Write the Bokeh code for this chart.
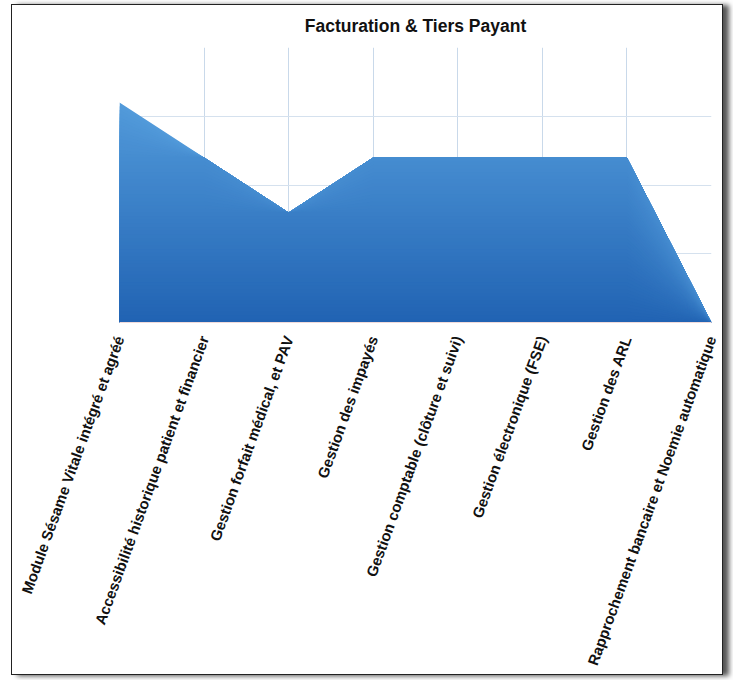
import numpy as np
from bokeh.plotting import figure
from bokeh.models import FixedTicker
from bokeh.embed import file_html
from bokeh.resources import INLINE

title = "Facturation & Tiers Payant"
categories = [
    "Module Sésame Vitale intégré et agréé",
    "Accessibilité historique patient et financier",
    "Gestion forfait médical, et PAV",
    "Gestion des impayés",
    "Gestion comptable (clôture et suivi)",
    "Gestion électronique (FSE)",
    "Gestion des ARL",
    "Rapprochement bancaire et Noemie automatique",
]
values = [4, 3, 2, 3, 3, 3, 3, 0]
y_max = 5
y_grid = [0, 1.25, 2.5, 3.75, 5]

x = np.arange(len(categories))
vals = np.array(values, dtype=float)

p = figure(width=712, height=671, x_range=(0, len(categories) - 1), y_range=(0, y_max),
           output_backend="svg", toolbar_location=None, title=title,
           min_border_left=107, min_border_right=13, min_border_top=42, min_border_bottom=354)
p.styles = {"border": "1px solid #222", "box-shadow": "6px 1px 5px #555",
            "margin-left": "11px", "margin-top": "4px"}

p.title.text_font = "Liberation Sans"
p.title.text_font_style = "bold"
p.title.text_font_size = "17.5px"
p.title.align = "center"
p.title.vertical_align = "top"
p.title.text_color = "#111111"
p.title.standoff = 20

# gradient-like fill: stacked areas from top (light) to bottom (dark)
top_c = np.array([0x52, 0x9a, 0xda])
bot_c = np.array([0x21, 0x63, 0xb3])
vmax = vals.max()
N = 60
levels = np.linspace(vmax, 0, N, endpoint=False)
for lev in levels:
    t = lev / vmax
    c = (bot_c + (top_c - bot_c) * t).astype(int)
    col = "#%02x%02x%02x" % tuple(c)
    p.varea(x=x, y1=np.zeros_like(vals), y2=np.minimum(vals, lev), fill_color=col)

p.outline_line_color = None
p.background_fill_color = "white"
p.border_fill_color = "white"

p.yaxis.visible = False
p.ygrid.ticker = FixedTicker(ticks=y_grid)
p.ygrid.grid_line_color = "#d5e1ee"
p.xgrid.ticker = FixedTicker(ticks=list(range(len(categories))))
p.xgrid.grid_line_color = "#c9d9ea"

xa = p.xaxis[0]
xa.ticker = FixedTicker(ticks=list(range(len(categories))))
xa.major_label_overrides = {i: c for i, c in enumerate(categories)}
xa.major_label_orientation = np.deg2rad(70)
xa.major_label_text_font = "Liberation Sans"
xa.major_label_text_font_style = "bold"
xa.major_label_text_font_size = "15px"
xa.major_label_text_color = "#111111"
xa.major_tick_line_color = None
xa.minor_tick_line_color = None
xa.axis_line_color = "#f0dada"
xa.major_label_standoff = 8

open("out.html", "w").write(file_html(p, INLINE))
